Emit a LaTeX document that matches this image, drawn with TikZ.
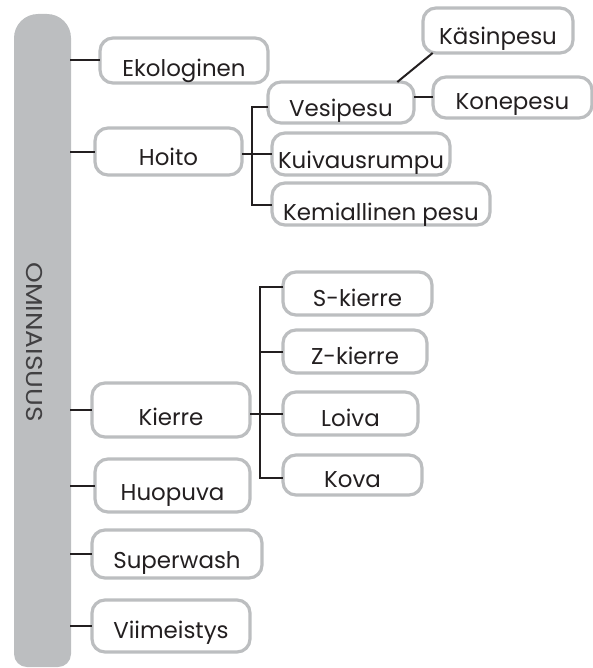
\documentclass[tikz,border=0pt]{standalone}
\usepackage{fontspec}
\setmainfont{Poppins}
\usetikzlibrary{calc}
\definecolor{barg}{HTML}{BCBEC0}
\definecolor{boxg}{HTML}{BCBEC0}
\definecolor{ink}{HTML}{231F20}
\definecolor{barink}{HTML}{414042}
\tikzset{
  bx/.style={draw=boxg, line width=3.2bp, rounded corners=13bp, fill=white,
    inner xsep=0pt, inner ysep=0pt, outer sep=0pt, text=ink,
    font=\fontsize{23}{23}\selectfont},
  conn/.style={draw=ink, line width=2bp}
}
% name, left, top, right, bottom, baseline, text
\newcommand\bx[7]{%
  \pgfmathsetmacro\bxw{#4-#2}%
  \pgfmathsetmacro\bxh{#6-#3}%
  \pgfmathsetmacro\bxd{#5-#6}%
  \pgfmathsetmacro\bxc{(#2+#4)/2}%
  \node[bx, minimum width=\bxw bp, text height=\bxh bp, text depth=\bxd bp, anchor=south] (#1) at (\bxc,#5) {#7};}
\begin{document}
\begin{tikzpicture}[x=1bp, y=-1bp]
\useasboundingbox (0,0) rectangle (593,668);
% side bar
\fill[barg] (14,654) -- (14,38) arc[start angle=180, end angle=270, radius=24]
  -- (47,14) arc[start angle=270, end angle=360, radius=24]
  -- (71,654) arc[start angle=0, end angle=90, radius=13]
  -- (27,667) arc[start angle=90, end angle=180, radius=13] -- cycle;
\node[rotate=-90, text=barink, font=\fontsize{23}{23}\selectfont, inner sep=0pt] (omi) at (35,342) {\scalebox{1.15}[1]{OMINAISUUS}};
\coordinate (barE) at (70,0);
% boxes
\bx{eko}{100}{38}{268}{83}{77}{Ekologinen}
\bx{hoito}{95}{128}{242}{175}{165}{Hoito}
\bx{vesi}{268}{82}{414}{123}{117}{Vesipesu}
\bx{kasi}{423}{8}{573}{53}{45}{Käsinpesu}
\bx{kone}{433}{77}{592}{118}{110}{Konepesu}
\bx{kuiv}{272}{133}{450}{175}{168}{Kuivausrumpu}
\bx{kemi}{272}{183}{490}{225}{220}{Kemiallinen pesu}
\bx{kierre}{92}{383}{250}{437}{425}{Kierre}
\bx{skier}{283}{272}{432}{315}{306}{S-kierre}
\bx{zkier}{283}{330}{427}{373}{364}{Z-kierre}
\bx{loiva}{283}{392}{418}{435}{426}{Loiva}
\bx{kova}{283}{455}{422}{495}{487}{Kova}
\bx{huop}{95}{459}{250}{512}{500}{Huopuva}
\bx{super}{92}{530}{262}{578}{568}{Superwash}
\bx{viim}{92}{600}{250}{652}{638}{Viimeistys}
% bar connectors
\foreach \n in {eko,hoito,kierre,huop,super,viim}
  \draw[conn] (barE |- \n.west) -- (\n.west);
% Hoito branch
\coordinate (hA) at (252,107);
\coordinate (hB) at (252,205);
\draw[conn] (vesi.west |- hA) -- (hA) -- (hB) -- (kemi.west |- hB);
\draw[conn] (hoito.east |- kuiv.west) -- (kuiv.west);
% Vesipesu branch
\draw[conn] (vesi.20) -- (kasi.199);
\draw[conn] (vesi.east |- kone.west) -- (kone.west);
% Kierre branch
\coordinate (kA) at (260,287);
\coordinate (kB) at (260,478);
\draw[conn] (skier.west |- kA) -- (kA) -- (kB) -- (kova.west |- kB);
\draw[conn] (zkier.west) -- (zkier.west -| kA);
\draw[conn] (kierre.east |- loiva.west) -- (loiva.west);
\end{tikzpicture}
\end{document}
